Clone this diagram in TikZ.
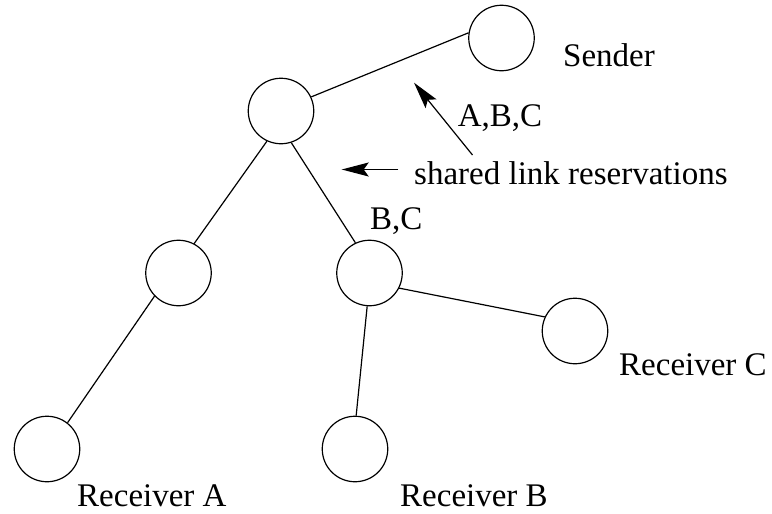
\documentclass[tikz,border=0pt]{standalone}
\usepackage{fontspec}
\setmainfont{Liberation Serif}
\usetikzlibrary{arrows.meta}
\begin{document}
\begin{tikzpicture}[x=1pt,y=-1pt,
  router/.style={circle,draw,line width=1.2pt,minimum size=65.5pt,inner sep=0pt},
  link/.style={line width=1.2pt},
  pointer/.style={line width=1.2pt,-{Stealth[length=27pt,width=14pt,inset=5pt]}},
  lbl/.style={anchor=base west,inner sep=0pt,font=\fontsize{33}{40}\selectfont}]
  \useasboundingbox (0,0) rectangle (772,514);

  % multicast tree nodes
  \node[router] (S) at (501.5,38) {};
  \node[router] (R) at (281,111) {};
  \node[router] (L) at (178.5,273) {};
  \node[router] (M) at (369.5,273) {};
  \node[router] (C) at (575,331) {};
  \node[router] (A) at (47,449) {};
  \node[router] (B) at (355,449) {};

  % tree links
  \draw[link] (R.25.8) -- (S.171.3);
  \draw[link] (R.245.7) -- (L.62.7);
  \draw[link] (R.288.4) -- (M.115.8);
  \draw[link] (L.224.4) -- (A.52.1);
  \draw[link] (M.266.8) -- (B.88.8);
  \draw[link] (M.333.5) -- (C.155.2);

  % labels
  \node[lbl] (tS) at (563,66.7) {Sender};
  \node[lbl] (tABC) at (457.7,126) {A,B,C};
  \node[lbl] (tshared) at (414,184.3) {shared link reservations};
  \node[lbl] (tBC) at (370,229) {B,C};
  \node[lbl] (tC) at (619,375.7) {Receiver C};
  \node[lbl] (tB) at (400,506.7) {Receiver B};
  \node[lbl] (tA) at (77,506.7) {Receiver A};

  % annotation arrows
  \coordinate (p1tail) at (472.5,155);
  \coordinate (p1tip) at (414,82.7);
  \coordinate (p2tail) at (398.3,169.5);
  \coordinate (p2tip) at (341.7,169.5);
  \draw[pointer] (p1tail) -- (p1tip);
  \draw[pointer] (p2tail) -- (p2tip);
\end{tikzpicture}
\end{document}
